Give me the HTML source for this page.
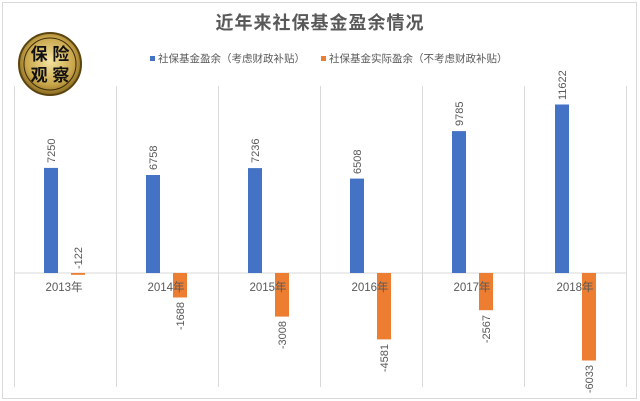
<!DOCTYPE html>
<html><head><meta charset="utf-8"><style>
html,body{margin:0;padding:0;background:#fff;}
svg{display:block;font-family:"Liberation Sans","Noto Sans CJK SC",sans-serif;}
</style></head><body>
<svg width="640" height="401" viewBox="0 0 640 401" xmlns="http://www.w3.org/2000/svg">
<rect x="0" y="0" width="640" height="401" fill="#fff"/>
<rect x="2.5" y="2.5" width="634" height="396" fill="none" stroke="#d9d9d9" stroke-width="1"/>
<defs>
<radialGradient id="g" cx="50%" cy="45%" r="55%">
<stop offset="0" stop-color="#f4e3a0"/><stop offset="0.7" stop-color="#c9a64a"/><stop offset="1" stop-color="#8a6a20"/>
</radialGradient>
</defs>
<text x="320" y="29" text-anchor="middle" font-size="18" font-weight="bold" letter-spacing="1" fill="#595959">近年来社保基金盈余情况</text>
<circle cx="50" cy="64" r="31" fill="url(#g)" stroke="#5a4410" stroke-width="2"/>
<circle cx="50" cy="64" r="26" fill="none" stroke="#3a2a08" stroke-width="1"/>
<text x="50" y="60" text-anchor="middle" font-size="17" font-weight="bold" fill="#111">保 险</text>
<text x="50" y="81" text-anchor="middle" font-size="17" font-weight="bold" fill="#111">观 察</text>
<rect x="150" y="56" width="5" height="5" fill="#4472c4"/>
<text x="158" y="62" font-size="10.5" fill="#595959">社保基金盈余（考虑财政补贴）</text>
<rect x="321" y="56" width="5" height="5" fill="#ed7d31"/>
<text x="329" y="62" font-size="10.5" fill="#595959">社保基金实际盈余（不考虑财政补贴）</text>
<g stroke="#d9d9d9" stroke-width="1">
<line x1="14.5" y1="86" x2="14.5" y2="387"/>
<line x1="116.5" y1="86" x2="116.5" y2="387"/>
<line x1="218.5" y1="86" x2="218.5" y2="387"/>
<line x1="320.5" y1="86" x2="320.5" y2="387"/>
<line x1="422.5" y1="86" x2="422.5" y2="387"/>
<line x1="524.5" y1="86" x2="524.5" y2="387"/>
<line x1="626.5" y1="86" x2="626.5" y2="387"/>
<line x1="14" y1="273" x2="627" y2="273"/>
</g>
<g fill="#4472c4">
<rect x="44" y="167.9" width="14" height="105.1"/>
<rect x="146" y="175" width="14" height="98"/>
<rect x="248" y="168.1" width="14" height="104.9"/>
<rect x="350" y="178.6" width="14" height="94.4"/>
<rect x="452" y="131.1" width="14" height="141.9"/>
<rect x="555" y="104.5" width="14" height="168.5"/>
</g>
<g fill="#ed7d31">
<rect x="71" y="273" width="14" height="1.8"/>
<rect x="173" y="273" width="14" height="24.5"/>
<rect x="275" y="273" width="14" height="43.6"/>
<rect x="377" y="273" width="14" height="66.4"/>
<rect x="479" y="273" width="14" height="37.2"/>
<rect x="582" y="273" width="14" height="87.5"/>
</g>
<g font-size="11" fill="#595959">
<text transform="translate(55,163) rotate(-90)">7250</text>
<text transform="translate(157,170) rotate(-90)">6758</text>
<text transform="translate(259,163) rotate(-90)">7236</text>
<text transform="translate(361,174) rotate(-90)">6508</text>
<text transform="translate(463,126) rotate(-90)">9785</text>
<text transform="translate(566,100) rotate(-90)">11622</text>
<text transform="translate(82,269) rotate(-90)">-122</text>
<text text-anchor="end" transform="translate(184,302) rotate(-90)">-1688</text>
<text text-anchor="end" transform="translate(286,321) rotate(-90)">-3008</text>
<text text-anchor="end" transform="translate(388,344) rotate(-90)">-4581</text>
<text text-anchor="end" transform="translate(490,315) rotate(-90)">-2567</text>
<text text-anchor="end" transform="translate(593,365) rotate(-90)">-6033</text>
</g>
<g font-size="11.5" fill="#595959" text-anchor="middle">
<text x="64" y="291">2013年</text>
<text x="166" y="291">2014年</text>
<text x="268" y="291">2015年</text>
<text x="370" y="291">2016年</text>
<text x="472" y="291">2017年</text>
<text x="575" y="291">2018年</text>
</g>
</svg>
</body></html>
